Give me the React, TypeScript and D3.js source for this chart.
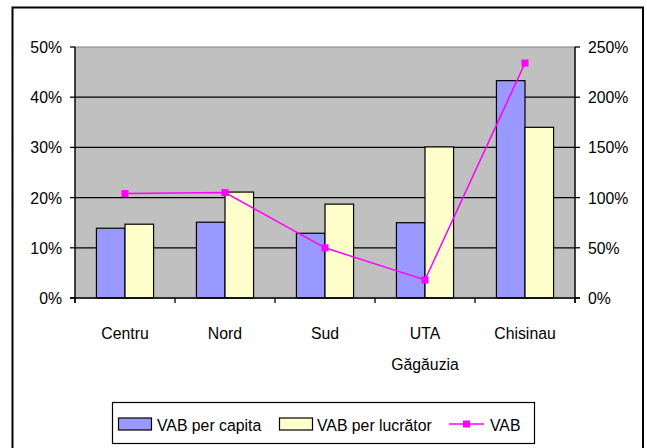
import React from "react";
import * as d3 from "d3";

const categories = ["Centru", "Nord", "Sud", "UTA\nGăgăuzia", "Chisinau"];
const perCapita = [13.9, 15.1, 12.9, 15.0, 43.3];
const perLucrator = [14.7, 21.1, 18.7, 30.1, 34.0];
const vab = [104, 105, 50, 18, 234];
const leftTicks = [0, 10, 20, 30, 40, 50];
const rightTicks = [0, 50, 100, 150, 200, 250];
const seriesNames = ["VAB per capita", "VAB per lucrător", "VAB"];

const W = 647;
const H = 448;
const plot = { left: 75, right: 575, top: 47, bottom: 298 };
const FONT = "'Liberation Sans', Arial, sans-serif";
const BLUE = "#9999FF";
const YELLOW = "#FFFFCC";
const MAG = "#FF00FF";

function Label(props: { x: number; y: number; anchor?: string; children: React.ReactNode }) {
  return (
    <text
      transform={`translate(${props.x},${props.y}) scale(0.93,1)`}
      textAnchor={props.anchor || "start"}
      fontSize={17}
      fill="#000"
    >
      {props.children}
    </text>
  );
}

export default function App() {
  const x = d3.scaleBand<string>().domain(categories).range([plot.left, plot.right]).padding(0);
  const xs = d3
    .scaleBand<string>()
    .domain(["a", "b"])
    .range([0, x.bandwidth()])
    .paddingInner(0)
    .paddingOuter(0.75);
  const yL = d3.scaleLinear().domain([0, 50]).range([plot.bottom, plot.top]);
  const yR = d3.scaleLinear().domain([0, 250]).range([plot.bottom, plot.top]);
  const line = d3
    .line<number>()
    .x((_, i) => x(categories[i])! + x.bandwidth() / 2)
    .y((d) => yR(d));
  const ms = 7;
  const tickEdges = categories.map((c) => x(c)!).concat([plot.right]);

  return (
    <svg
      width={W}
      height={H}
      style={{ position: "absolute", left: 0, top: 0, background: "#fff" }}
      fontFamily={FONT}
    >
      <rect x={12.5} y={7.5} width={630.5} height={460} fill="#fff" stroke="#000" strokeWidth={2} />
      {/* plot area */}
      <rect
        x={plot.left}
        y={plot.top}
        width={plot.right - plot.left}
        height={plot.bottom - plot.top}
        fill="#C0C0C0"
        stroke="#808080"
        strokeWidth={1}
      />
      {leftTicks
        .filter((t) => t > 0 && t < 50)
        .map((t) => (
          <line key={t} x1={plot.left} x2={plot.right} y1={yL(t)} y2={yL(t)} stroke="#000" strokeWidth={1.3} />
        ))}
      {/* bars */}
      {categories.map((c, i) => (
        <g key={c}>
          <rect
            x={x(c)! + xs("a")!}
            y={yL(perCapita[i])}
            width={xs.bandwidth()}
            height={plot.bottom - yL(perCapita[i])}
            fill={BLUE}
            stroke="#000"
            strokeWidth={1.2}
          />
          <rect
            x={x(c)! + xs("b")!}
            y={yL(perLucrator[i])}
            width={xs.bandwidth()}
            height={plot.bottom - yL(perLucrator[i])}
            fill={YELLOW}
            stroke="#000"
            strokeWidth={1.2}
          />
        </g>
      ))}
      {/* axes */}
      <line x1={plot.left} x2={plot.left} y1={plot.top} y2={plot.bottom + 5} stroke="#000" strokeWidth={1.3} />
      <line x1={plot.right} x2={plot.right} y1={plot.top} y2={plot.bottom + 5} stroke="#000" strokeWidth={1.3} />
      <line x1={plot.left - 5} x2={plot.right + 5} y1={plot.bottom} y2={plot.bottom} stroke="#000" strokeWidth={1.3} />
      {leftTicks.map((t) => (
        <g key={"l" + t}>
          <line x1={plot.left - 5} x2={plot.left} y1={yL(t)} y2={yL(t)} stroke="#000" strokeWidth={1.3} />
          <Label x={62} y={yL(t) + 6} anchor="end">
            {t + "%"}
          </Label>
        </g>
      ))}
      {rightTicks.map((t) => (
        <g key={"r" + t}>
          <line x1={plot.right} x2={plot.right + 5} y1={yR(t)} y2={yR(t)} stroke="#000" strokeWidth={1.3} />
          <Label x={588} y={yR(t) + 6}>
            {t + "%"}
          </Label>
        </g>
      ))}
      {tickEdges.map((e, i) => (
        <line key={"t" + i} x1={e} x2={e} y1={plot.bottom} y2={plot.bottom + 5} stroke="#000" strokeWidth={1.3} />
      ))}
      {categories.map((c) =>
        c.split("\n").map((l, j) => (
          <Label key={c + j} x={x(c)! + x.bandwidth() / 2} y={339 + j * 31} anchor="middle">
            {l}
          </Label>
        ))
      )}
      {/* line series */}
      <path d={line(vab)!} fill="none" stroke={MAG} strokeWidth={1.5} />
      {vab.map((v, i) => (
        <rect
          key={"m" + i}
          x={x(categories[i])! + x.bandwidth() / 2 - ms / 2}
          y={yR(v) - ms / 2}
          width={ms}
          height={ms}
          fill={MAG}
        />
      ))}
      {/* legend */}
      <rect x={112.5} y={402.5} width={422} height={41} fill="#fff" stroke="#000" strokeWidth={1.2} />
      <rect x={118.5} y={418} width={33} height={12} fill={BLUE} stroke="#000" strokeWidth={1.2} />
      <Label x={157} y={431}>
        {seriesNames[0]}
      </Label>
      <rect x={279.5} y={418} width={33} height={12} fill={YELLOW} stroke="#000" strokeWidth={1.2} />
      <Label x={317} y={431}>
        {seriesNames[1]}
      </Label>
      <line x1={449} x2={484} y1={424} y2={424} stroke={MAG} strokeWidth={1.5} />
      <rect x={466.5 - ms / 2} y={424 - ms / 2} width={ms} height={ms} fill={MAG} />
      <Label x={490} y={431}>
        {seriesNames[2]}
      </Label>
    </svg>
  );
}
